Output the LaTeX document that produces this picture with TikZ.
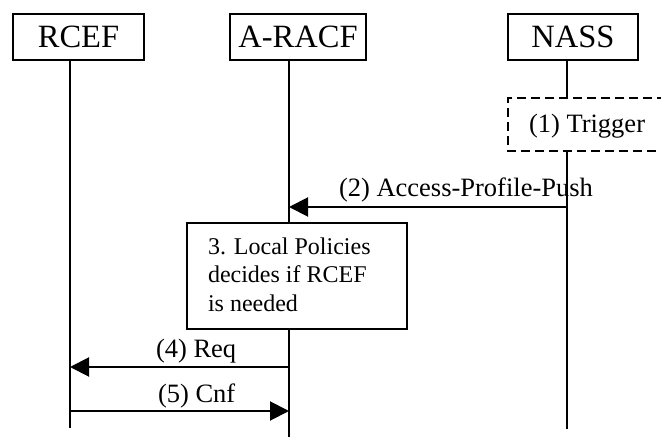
\documentclass[tikz,border=0pt]{standalone}
\usepackage{fontspec}
\setmainfont{Liberation Serif}
\usetikzlibrary{arrows.meta}
\begin{document}
\begin{tikzpicture}[x=1pt,y=-1pt,
  line width=2pt,
  headbox/.style={draw,fill=white,anchor=north west,inner sep=0pt,font=\fontsize{32.5}{39}\selectfont},
  lifeline/.style={draw,line width=2pt},
  msg/.style={-{Triangle[length=19pt,width=19pt]},line width=2pt},
  msglabel/.style={anchor=base west,inner sep=0pt,font=\fontsize{26.5}{32}\selectfont},
  notebox/.style={draw,fill=white,anchor=north west,inner sep=0pt},
  trigbox/.style={draw,dash pattern=on 9pt off 5pt,line width=2pt}]
\useasboundingbox (0,0) rectangle (661,438);
\clip (0,0) rectangle (661,438);
\fill[white] (0,0) rectangle (661,438);
% heading boxes
\node[headbox,minimum width=131pt,minimum height=46pt] (rcef) at (12,13) {};
\node[font=\fontsize{32.5}{39}\selectfont,inner sep=0pt] at (rcef.center) {RCEF};
\node[headbox,minimum width=136pt,minimum height=46pt] (racf) at (229,13) {};
\node[font=\fontsize{32.5}{39}\selectfont,inner sep=0pt] at (racf.center) {A-RACF};
\node[headbox,minimum width=130pt,minimum height=46pt] (nass) at (507,13) {};
\node[font=\fontsize{32.5}{39}\selectfont,inner sep=0pt] at (nass.center) {NASS};
% lifeline coordinates
\coordinate (rcefTop) at (70,59);
\coordinate (rcefBot) at (70,428);
\coordinate (racfTop) at (289,59);
\coordinate (racfBot) at (289,437);
\coordinate (nassTop) at (567,59);
\coordinate (nassTrigTop) at (567,98);
\coordinate (nassTrigBot) at (567,151);
\coordinate (nassBot) at (567,429);
\draw[lifeline] (rcefTop) -- (rcefBot);
\draw[lifeline] (racfTop) -- (racfBot);
\draw[lifeline] (nassTop) -- (nassTrigTop);
\draw[lifeline] (nassTrigBot) -- (nassBot);
% trigger box (open to the right, clipped)
\coordinate (trigTR) at (680,98);
\coordinate (trigTL) at (508,98);
\coordinate (trigBL) at (508,151);
\coordinate (trigBR) at (680,151);
\draw[trigbox] (trigTR) -- (trigTL) -- (trigBL) -- (trigBR);
\node[msglabel] (trig) at (528,133) {(1) Trigger};
% message 2
\coordinate (m2s) at (567,207);
\coordinate (m2e) at (289,207);
\draw[msg] (m2s) -- (m2e);
\node[msglabel] (l2) at (338,197) {(2) Access-Profile-Push};
% note box 3
\node[notebox,minimum width=220pt,minimum height=106pt] (note) at (186,222) {};
\node[anchor=base west,inner sep=0pt,font=\fontsize{24}{28}\selectfont] (n1) at (207,255) {3. Local Policies};
\node[anchor=base west,inner sep=0pt,font=\fontsize{24}{28}\selectfont] (n2) at (207,283) {decides if RCEF};
\node[anchor=base west,inner sep=0pt,font=\fontsize{24}{28}\selectfont] (n3) at (207,311) {is needed};
% message 4
\coordinate (m4s) at (289,367);
\coordinate (m4e) at (70,367);
\draw[msg] (m4s) -- (m4e);
\node[msglabel] (l4) at (155,357) {(4) Req};
% message 5
\coordinate (m5s) at (70,411);
\coordinate (m5e) at (289,411);
\draw[msg] (m5s) -- (m5e);
\node[msglabel] (l5) at (157,402) {(5) Cnf};
\end{tikzpicture}
\end{document}
